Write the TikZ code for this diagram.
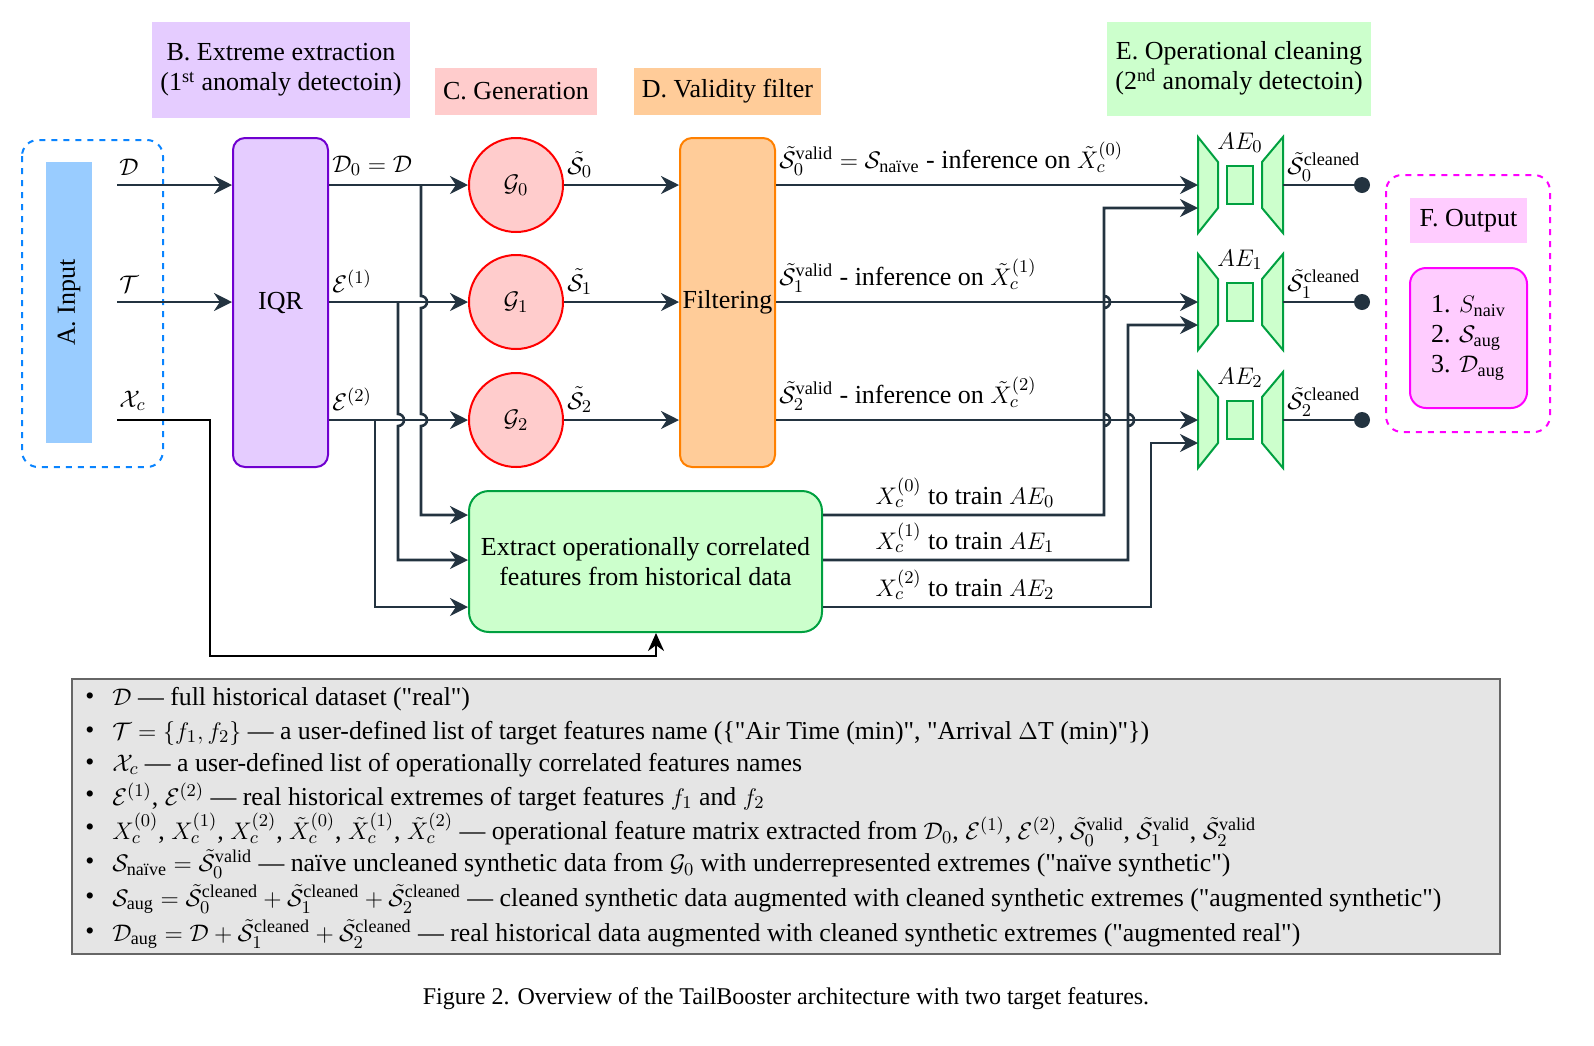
\documentclass[tikz,border=0pt]{standalone}
\usepackage{amsmath}
\usepackage{fontspec}
\setmainfont{Liberation Serif}
\newfontfamily\diagfont{Liberation Serif}
\usetikzlibrary{arrows.meta,calc,positioning}
\definecolor{lineC}{HTML}{233340}
\definecolor{inBlue}{HTML}{99CCFF}
\definecolor{dashBlue}{HTML}{0A84FF}
\definecolor{purFill}{HTML}{E5CCFF}
\definecolor{purDraw}{HTML}{7000D0}
\definecolor{redFill}{HTML}{FFCCCC}
\definecolor{oraFill}{HTML}{FFCC99}
\definecolor{oraDraw}{HTML}{FF8000}
\definecolor{grnFill}{HTML}{CCFFCC}
\definecolor{grnDraw}{HTML}{00A040}
\definecolor{magDraw}{HTML}{FF00FF}
\definecolor{magFill}{HTML}{FFCCFF}
\newcommand{\dfont}{\diagfont\fontsize{13}{15}\selectfont}
\newcommand{\lfont}{\diagfont\fontsize{12.9}{15}\selectfont}
\tikzset{
	conn/.style   = {draw=lineC, line width=1.3pt, -{Stealth[length=9pt,width=9pt]}},
	plain/.style  = {draw=lineC, line width=1.3pt},
	hdr/.style    = {inner sep=4pt, align=center, font=\dfont, minimum height=23.5pt},
	gen/.style    = {circle, draw=red, fill=redFill, line width=1pt, minimum size=47pt, inner sep=0pt, font=\dfont},
	tallbox/.style= {rounded corners=6pt, line width=1pt, minimum width=47.5pt, minimum height=164.5pt, font=\dfont, inner sep=0pt},
	lbl/.style    = {font=\dfont, inner sep=1pt},
	aeshape/.style= {draw=grnDraw, fill=grnFill, line width=1pt},
}
\newcommand{\hop}[1]{-- (\hx,#1-6) arc[start angle=90, end angle=-90, radius=3pt]}
\newcommand{\aeblock}[2]{% #1 = centre y, #2 = index
	\coordinate (ae#2) at (1240,#1);
	\filldraw[aeshape] (1198,#1-48) -- (1218,#1-23) -- (1218,#1+23) -- (1198,#1+48) -- cycle;
	\filldraw[aeshape] (1283,#1-48) -- (1262,#1-23) -- (1262,#1+23) -- (1283,#1+48) -- cycle;
	\filldraw[aeshape] (1227,#1-19) rectangle (1253,#1+19);
	\node[lbl, anchor=south] (aelbl#2) at (1240,#1-30) {$AE_{#2}$};
	\node[circle, fill=lineC, minimum size=8pt, inner sep=0pt] (dot#2) at (1362,#1) {};
	\draw[plain] (1283,#1) -- (dot#2);
	\node[lbl, anchor=south west] at (1285,#1-1) {$\tilde{\mathcal{S}}_{#2}^{\text{cleaned}}$};
}
\begin{document}
\begin{tikzpicture}[x=0.5pt, y=-0.5pt]
	\useasboundingbox (0,0) rectangle (1594,1045);
	% section headers
	\node[hdr, fill=purFill, minimum width=129pt, minimum height=48pt] (hB) at (281,70) {B. Extreme extraction\\(1\textsuperscript{st} anomaly detectoin)};
	\node[hdr, fill=redFill, minimum width=76pt] (hC) at (516,91.5) {C. Generation};
	\node[hdr, fill=oraFill, minimum width=87.5pt] (hD) at (727.5,91.5) {D. Validity filter};
	\node[hdr, fill=grnFill, minimum width=129pt, minimum height=47pt] (hE) at (1239,68.5) {E. Operational cleaning\\(2\textsuperscript{nd} anomaly detectoin)};
	% input
	\draw[dashBlue, dashed, line width=1pt, rounded corners=8pt] (22,140) rectangle (163,467);
	\node[fill=inBlue, minimum width=23pt, minimum height=140.5pt, inner sep=0pt] (inbar) at (69,302.5) {};
	\node[rotate=90, font=\dfont] at (inbar) {A. Input};
	\coordinate (inD) at (117,185);
	\coordinate (inT) at (117,302);
	\coordinate (inX) at (117,420);
	\node[lbl, anchor=south west] at (117,178) {$\mathcal{D}$};
	\node[lbl, anchor=south west] at (117,295) {$\mathcal{T}$};
	\node[lbl, anchor=south west] at (117,413) {$\mathcal{X}_c$};
	% main blocks
	\node[tallbox, draw=purDraw, fill=purFill] (iqr) at (280.5,302.5) {IQR};
	\node[tallbox, draw=oraDraw, fill=oraFill] (filt) at (727.5,302.5) {Filtering};
	\node[gen] (g0) at (516,185) {$\mathcal{G}_0$};
	\node[gen] (g1) at (516,302) {$\mathcal{G}_1$};
	\node[gen] (g2) at (516,420) {$\mathcal{G}_2$};
	\node[rounded corners=10pt, draw=grnDraw, fill=grnFill, line width=1pt, minimum width=176.5pt, minimum height=70.5pt, align=center, font=\dfont] (ext) at (645.5,561.5) {Extract operationally correlated\\features from historical data};
	% inputs to IQR
	\draw[conn] (inD) -- (inD -| iqr.west);
	\draw[conn] (inT) -- (inT -| iqr.west);
	\coordinate (xcup) at (656,656);
	\draw[draw=black, line width=1.3pt, -{Stealth[length=9pt,width=8pt]}] (inX) -- (210,420) -- (210,656) -- (xcup) -- (xcup |- ext.south);
	% IQR to generators
	\draw[conn] (iqr.east |- g0) -- (g0);
	\draw[conn] (iqr.east |- g1) -- (g1);
	\draw[conn] (iqr.east |- g2) -- (g2);
	\node[lbl, anchor=south west] at (330,178) {$\mathcal{D}_0=\mathcal{D}$};
	\node[lbl, anchor=south west] at (330,295) {$\mathcal{E}^{(1)}$};
	\node[lbl, anchor=south west] at (330,413) {$\mathcal{E}^{(2)}$};
	% IQR to extraction
	\def\hx{421}
	\draw[conn] (421,185) \hop{302} \hop{420} -- (421,515) -- (421,515 -| ext.west);
	\def\hx{398}
	\draw[conn] (398,302) \hop{420} -- (398,560) -- (398,560 -| ext.west);
	\draw[conn] (375,420) -- (375,607) -- (375,607 -| ext.west);
	% generators to filter
	\draw[conn] (g0) -- (g0 -| filt.west);
	\draw[conn] (g1) -- (g1 -| filt.west);
	\draw[conn] (g2) -- (g2 -| filt.west);
	\node[lbl, anchor=south west] at (565,180) {$\tilde{\mathcal{S}}_0$};
	\node[lbl, anchor=south west] at (565,297) {$\tilde{\mathcal{S}}_1$};
	\node[lbl, anchor=south west] at (565,415) {$\tilde{\mathcal{S}}_2$};
	% autoencoders
	\aeblock{185}{0}
	\aeblock{302}{1}
	\aeblock{420}{2}
	% filter to autoencoders
	\draw[conn] (filt.east |- ae0) -- (1198,185);
	\draw[conn] (filt.east |- ae1) -- (1198,302);
	\draw[conn] (filt.east |- ae2) -- (1198,420);
	\node[lbl, anchor=south west] at (777,178) {$\tilde{\mathcal{S}}_0^{\text{valid}}=\mathcal{S}_{\text{naïve}}$ - inference on $\tilde{X}_c^{(0)}$};
	\node[lbl, anchor=south west] at (777,295) {$\tilde{\mathcal{S}}_1^{\text{valid}}$ - inference on $\tilde{X}_c^{(1)}$};
	\node[lbl, anchor=south west] at (777,413) {$\tilde{\mathcal{S}}_2^{\text{valid}}$ - inference on $\tilde{X}_c^{(2)}$};
	% extraction to autoencoders
	\def\hx{1104}
	\draw[conn] (ext.east |- 0,515) -- (1104,515) \hop{420} \hop{302} -- (1104,208) -- (1198,208);
	\def\hx{1128}
	\draw[conn] (ext.east |- 0,560) -- (1128,560) \hop{420} -- (1128,325) -- (1198,325);
	\draw[conn] (ext.east |- 0,607) -- (1151,607) -- (1151,443) -- (1198,443);
	\node[lbl, anchor=south] at (965,510) {$X_c^{(0)}$ to train $AE_0$};
	\node[lbl, anchor=south] at (965,555) {$X_c^{(1)}$ to train $AE_1$};
	\node[lbl, anchor=south] at (965,602) {$X_c^{(2)}$ to train $AE_2$};
	% output
	\draw[magDraw, dashed, line width=1pt, rounded corners=8pt] (1386,175) rectangle (1550,432);
	\node[fill=magFill, minimum width=58.5pt, minimum height=22.5pt, font=\dfont] (hF) at (1468.5,220.5) {F. Output};
	\node[rounded corners=8pt, draw=magDraw, fill=magFill, line width=1pt, minimum width=58.5pt, minimum height=70pt, align=left, font=\dfont] (outlist) at (1468.5,338) {1. $S_{\text{naiv}}$\\2. $\mathcal{S}_{\text{aug}}$\\3. $\mathcal{D}_{\text{aug}}$};
	% legend
	\node[draw=gray!80!black, fill=gray!20, line width=1pt, minimum width=714pt, minimum height=137.5pt, inner sep=0pt] (legend) at (786,816.5) {};
	\foreach \yy/\txt in {
		699/{$\mathcal{D}$ — full historical dataset (\char34 real\char34)},
		733/{$\mathcal{T}=\{f_1,f_2\}$ — a user-defined list of target features name (\{\char34 Air Time (min)\char34, \char34 Arrival $\Delta$T (min)\char34\})},
		765/{$\mathcal{X}_c$ — a user-defined list of operationally correlated features names},
		797/{$\mathcal{E}^{(1)}$, $\mathcal{E}^{(2)}$ — real historical extremes of target features $f_1$ and $f_2$},
		830/{$X_c^{(0)}$, $X_c^{(1)}$, $X_c^{(2)}$, $\tilde{X}_c^{(0)}$, $\tilde{X}_c^{(1)}$, $\tilde{X}_c^{(2)}$ — operational feature matrix extracted from $\mathcal{D}_0$, $\mathcal{E}^{(1)}$, $\mathcal{E}^{(2)}$, $\tilde{\mathcal{S}}_0^{\text{valid}}$, $\tilde{\mathcal{S}}_1^{\text{valid}}$, $\tilde{\mathcal{S}}_2^{\text{valid}}$},
		864/{$\mathcal{S}_{\text{naïve}}=\tilde{\mathcal{S}}_0^{\text{valid}}$ — naïve uncleaned synthetic data from $\mathcal{G}_0$ with underrepresented extremes (\char34 naïve synthetic\char34)},
		899/{$\mathcal{S}_{\text{aug}}=\tilde{\mathcal{S}}_0^{\text{cleaned}}+\tilde{\mathcal{S}}_1^{\text{cleaned}}+\tilde{\mathcal{S}}_2^{\text{cleaned}}$ — cleaned synthetic data augmented with cleaned synthetic extremes (\char34 augmented synthetic\char34)},
		934/{$\mathcal{D}_{\text{aug}}=\mathcal{D}+\tilde{\mathcal{S}}_1^{\text{cleaned}}+\tilde{\mathcal{S}}_2^{\text{cleaned}}$ — real historical data augmented with cleaned synthetic extremes (\char34 augmented real\char34)}}{
		\node[font=\lfont, inner sep=0pt] at (90,\yy) {•};
		\node[font=\lfont, anchor=west, inner sep=0pt] at (112,\yy) {\txt};
	}
	% caption
	\node[font=\diagfont\fontsize{12}{14}\selectfont] (caption) at (786,999) {Figure 2. Overview of the TailBooster architecture with two target features.};
\end{tikzpicture}
\end{document}
